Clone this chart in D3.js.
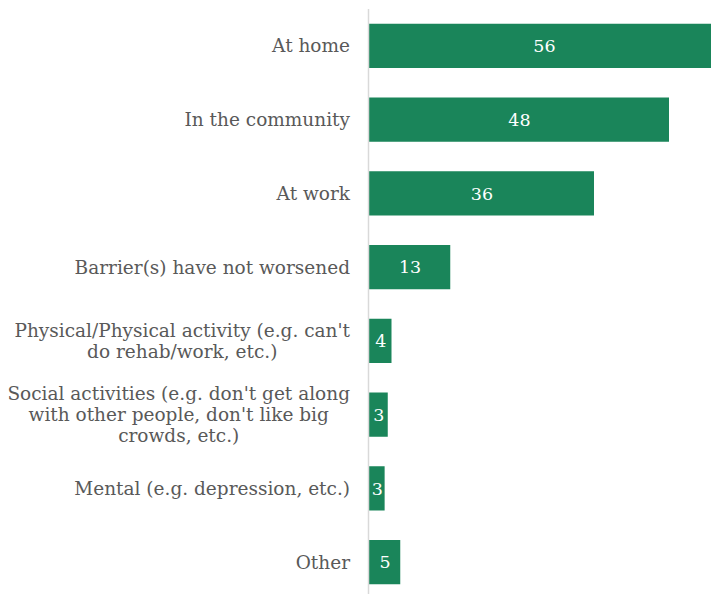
<!DOCTYPE html>
<html><head><meta charset="utf-8">
<script src="https://cdn.jsdelivr.net/npm/d3@7"></script>
<style>body{margin:0;background:#fff}svg{display:block}</style>
</head><body>
<script>
const categories = [
  "At home",
  "In the community",
  "At work",
  "Barrier(s) have not worsened",
  "Physical/Physical activity (e.g. can't\ndo rehab/work, etc.)",
  "Social activities (e.g. don't get along\nwith other people, don't like big\ncrowds, etc.)",
  "Mental (e.g. depression, etc.)",
  "Other"
];
const values = [56, 48, 36, 13, 3.6, 3, 2.5, 5];

const W = 711, H = 594;
const svg = d3.select("body").append("svg").attr("width", W).attr("height", H);
const font = "'DejaVu Serif', Georgia, serif";

const x0 = 369;
const x = d3.scaleLinear().domain([0, 48]).range([x0, 669]);
const y = d3.scaleBand().domain(categories).range([9, 599]).paddingInner(0.4).paddingOuter(0.2);

svg.append("g").selectAll("rect").data(values).join("rect")
  .attr("x", x(0))
  .attr("y", (d, i) => y(categories[i]))
  .attr("width", d => x(d) - x(0))
  .attr("height", y.bandwidth())
  .attr("fill", "#1a855a");

svg.append("line").attr("x1", x0 - 0.5).attr("x2", x0 - 0.5).attr("y1", 9).attr("y2", H)
  .attr("stroke", "#d9d9d9").attr("stroke-width", 1.5);

svg.append("g").selectAll("text").data(values).join("text")
  .attr("x", d => (x(0) + x(d)) / 2 + 0.5)
  .attr("y", (d, i) => y(categories[i]) + y.bandwidth() / 2)
  .attr("dy", "0.35em")
  .attr("text-anchor", "middle")
  .attr("fill", "#ffffff")
  .style("font-family", font).style("font-size", "17.5px")
  .text(d => d3.format(".0f")(d));

const lh = 21;
const right = 350;
const lab = svg.append("g").selectAll("text").data(categories).join("text")
  .attr("text-anchor", "middle")
  .attr("fill", "#595959")
  .style("font-family", font).style("font-size", "18.5px");
lab.each(function(c) {
  const lines = c.split("\n");
  const cy = y(c) + y.bandwidth() / 2;
  const t = d3.select(this);
  const spans = lines.map((l, j) => t.append("tspan")
      .attr("y", cy + (j - (lines.length - 1) / 2) * lh)
      .attr("dy", "0.35em").text(l));
  const w = d3.max(spans, s => s.node().getComputedTextLength());
  spans.forEach(s => s.attr("x", right - w / 2));
});
</script>
</body></html>
